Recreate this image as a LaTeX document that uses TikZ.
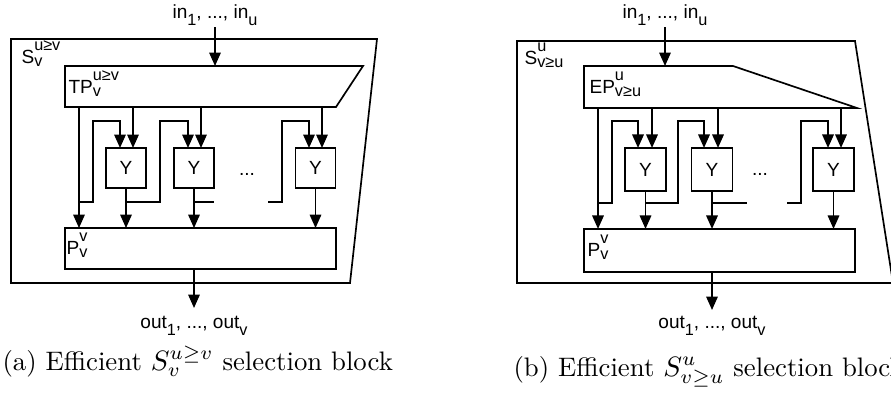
\documentclass[tikz,border=0pt]{standalone}
\usepackage{fontspec}
\newfontfamily\dfont{Liberation Sans}
\usetikzlibrary{arrows.meta}
\newcommand\scfont{\fontsize{5.8}{6}\selectfont}
% stacked superscript (#1) and subscript (#2)
\newcommand\sst[2]{{\setbox0\hbox{\scfont#1}\setbox2\hbox{\scfont#2}%
  \dimen0=\wd0 \ifdim\wd2>\dimen0 \dimen0=\wd2 \fi
  \hbox to\dimen0{\rlap{\raise4.3pt\box0}\lower1.3pt\box2\hfil}}}
% single subscript
\newcommand\ssb[1]{\lower2.7pt\hbox{\scfont#1}}
\begin{document}
\begin{tikzpicture}[x=0.357pt,y=-0.357pt,
  wire/.style={line width=0.6pt, line join=miter},
  arr/.style={wire,-{Triangle[length=4.8pt,width=4.1pt]}},
  lbl/.style={font=\dfont\fontsize{6.8}{8}\selectfont, inner sep=0pt},
  yboxa/.style={draw, line width=0.6pt, outer sep=0pt, inner sep=0pt, minimum width=14.3pt, minimum height=14.3pt, font=\dfont\fontsize{6.8}{8}\selectfont},
  yboxb/.style={yboxa, minimum width=14.6pt, minimum height=15.4pt},
  pbox/.style={draw, line width=0.6pt, outer sep=0pt, inner sep=0pt, minimum width=96.7pt},
  captext/.style={inner sep=0pt, anchor=base west, font=\fontsize{9.55}{11}\selectfont}]
\useasboundingbox (0,0) rectangle (891,392);

% ===================== (a) =====================
\draw[wire] (11,39) -- (377,39) -- (350,283) -- (11,283) -- cycle;
\node[lbl, anchor=base west] (Sa) at (21,63) {S\sst{u≥v}{v}};
\node[lbl, anchor=base] (ina) at (215,18) {in\ssb{1}, ..., in\ssb{u}};
\coordinate (ina-s) at (215,27);
\coordinate (ina-e) at (215,66);
\draw[arr] (ina-s) -- (ina-e);
\draw[wire] (65,66) -- (363,66) -- (336,107) -- (65,107) -- cycle;
\node[lbl, anchor=base west] (TPa) at (68,93) {TP\sst{u≥v}{v}};

\node[yboxa] (ya1) at (126,168) {Y};
\node[yboxa] (ya2) at (194,168) {Y};
\node[yboxa] (ya3) at (315.5,168) {Y};
\node[lbl, anchor=base] (dota) at (247,175) {...};
\node[pbox, minimum height=14.6pt] (pa) at (200.5,248.5) {};
\node[lbl, anchor=base west] (pla) at (66,254) {P\sst{v}{v}};

\coordinate (ta0) at (79,107);
\coordinate (ta1) at (133,107);
\coordinate (ta2) at (201,107);
\coordinate (ta3) at (322,107);
\coordinate (la1) at (120,121);
\coordinate (la2) at (188,121);
\coordinate (la3) at (309,121);
\draw[arr] (ta1) -- (ta1 |- ya1.north);
\draw[arr] (ta2) -- (ta2 |- ya2.north);
\draw[arr] (ta3) -- (ta3 |- ya3.north);
\draw[arr] (ta0) -- (ta0 |- pa.north);
\draw[arr] (79,202) -- (93,202) -- (93,121) -- (la1) -- (la1 |- ya1.north);
\draw[arr] (ya1.south) -- (ya1.south |- pa.north);
\draw[arr] (126,202) -- (160,202) -- (160,121) -- (la2) -- (la2 |- ya2.north);
\draw[arr] (ya2.south) -- (ya2.south |- pa.north);
\draw[wire] (194,202) -- (214,202);
\draw[arr] (268,202) -- (282,202) -- (282,121) -- (la3) -- (la3 |- ya3.north);
\draw[arr] (ya3.south) -- (ya3.south |- pa.north);
\coordinate (oa-e) at (194,308);
\draw[arr] (pa.south -| ya2) -- (oa-e);
\node[lbl, anchor=base] (outa) at (194,328) {out\ssb{1}, ..., out\ssb{v}};
\node[captext] (capa) at (2,370) {(a) Efficient $S_v^{u\geq v}$ selection block};

% ===================== (b) =====================
\draw[wire] (517,41) -- (855,41) -- (893,283) -- (517,283) -- cycle;
\node[lbl, anchor=base west] (Sb) at (524,64) {S\sst{u}{v≥u}};
\node[lbl, anchor=base] (inb) at (665,18) {in\ssb{1}, ..., in\ssb{u}};
\coordinate (inb-s) at (665,27);
\coordinate (inb-e) at (665,66);
\draw[arr] (inb-s) -- (inb-e);
\draw[wire] (584,66) -- (733,66) -- (857,108) -- (584,108) -- cycle;
\node[lbl, anchor=base west] (EPb) at (589,93) {EP\sst{u}{v≥u}};

\node[yboxb] (yb1) at (645.5,169.5) {Y};
\node[yboxb] (yb2) at (712,169.5) {Y};
\node[yboxb] (yb3) at (833.5,169.5) {Y};
\node[lbl, anchor=base] (dotb) at (760,175) {...};
\node[pbox, minimum height=15.4pt] (pb) at (719.5,250.5) {};
\node[lbl, anchor=base west] (plb) at (587,256) {P\sst{v}{v}};

\coordinate (tb0) at (598,108);
\coordinate (tb1) at (652,108);
\coordinate (tb2) at (718,108);
\coordinate (tb3) at (841,108);
\coordinate (lb1) at (638,121);
\coordinate (lb2) at (704,121);
\coordinate (lb3) at (828,121);
\draw[arr] (tb1) -- (tb1 |- yb1.north);
\draw[arr] (tb2) -- (tb2 |- yb2.north);
\draw[arr] (tb3) -- (tb3 |- yb3.north);
\draw[arr] (tb0) -- (tb0 |- pb.north);
\draw[arr] (598,203) -- (612,203) -- (612,121) -- (lb1) -- (lb1 |- yb1.north);
\draw[arr] (yb1.south) -- (yb1.south |- pb.north);
\draw[arr] (645.5,203) -- (678,203) -- (678,121) -- (lb2) -- (lb2 |- yb2.north);
\draw[arr] (yb2.south) -- (yb2.south |- pb.north);
\draw[wire] (712,203) -- (747,203);
\draw[arr] (787,203) -- (801,203) -- (801,121) -- (lb3) -- (lb3 |- yb3.north);
\draw[arr] (yb3.south) -- (yb3.south |- pb.north);
\coordinate (ob-e) at (712,310);
\draw[arr] (pb.south -| yb2) -- (ob-e);
\node[lbl, anchor=base] (outb) at (712,328) {out\ssb{1}, ..., out\ssb{v}};
\node[captext] (capb) at (513,376) {(b) Efficient $S^u_{v\geq u}$ selection block};
\end{tikzpicture}
\end{document}
